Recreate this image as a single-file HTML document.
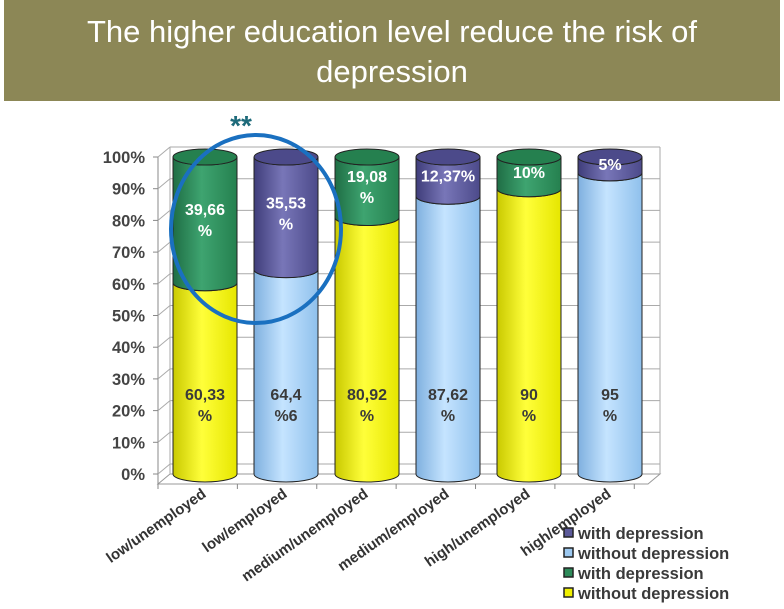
<!DOCTYPE html>
<html><head><meta charset="utf-8"><style>
body{margin:0;background:#fff;width:784px;height:609px;overflow:hidden;font-family:"Liberation Sans",sans-serif}
#banner{position:absolute;left:4px;top:0;width:776px;height:101px;background:#8c8756;color:#fff;font-size:31px;text-align:center;line-height:40px;padding-top:12px;box-sizing:border-box}
svg{position:absolute;left:0;top:0}
</style></head><body>
<div id="banner">The higher education level reduce the risk of<br>depression</div>
<svg id="chart" width="784" height="609"></svg>
<script>
const categories=["low/unemployed","low/employed","medium/unemployed","medium/employed","high/unemployed","high/employed"];
const bottomValues=[60.33,64.46,80.92,87.62,90,95];
const topValues=[39.66,35.53,19.08,12.37,10,5];
const bottomLabels=[["60,33","%"],["64,4","%6"],["80,92","%"],["87,62","%"],["90","%"],["95","%"]];
const topLabels=[["39,66","%"],["35,53","%"],["19,08","%"],["12,37%"],["10%"],["5%"]];
const yTicks=[0,10,20,30,40,50,60,70,80,90,100];
const legendLabels=["with depression","without depression","with depression","without depression"];

const NS="http://www.w3.org/2000/svg";
const svg=document.getElementById('chart');
function el(t,a,p){const e=document.createElementNS(NS,t);for(const k in a)e.setAttribute(k,a[k]);(p||svg).appendChild(e);return e;}
const y0=474,y100=157;
const yS=v=>y0-(y100-y0)*-v/100;
const x0=173,step=81,bw=64;
const xS=i=>x0+i*step;
const ry=8;
const defs=el('defs',{});
const cols={yellow:["#c9c900","#ffff3a","#e6e600"],blue:["#7fb0df","#c5e4ff","#8fc0ec"],green:["#1f6e45","#3ea470","#25804f"],purple:["#3f3d7a","#7876b8","#4c4a8a"]};
for(const k in cols){const g=el('linearGradient',{id:'g'+k,x1:0,x2:1,y1:0,y2:0},defs);
 el('stop',{offset:'0','stop-color':cols[k][0]},g);el('stop',{offset:'0.45','stop-color':cols[k][1]},g);el('stop',{offset:'1','stop-color':cols[k][2]},g);}
const wall=el('polygon',{points:`158,${y0+10} 170,${y0} 660,${y0} 648,${y0+10}`,fill:'none',stroke:'#999'});

el('line',{x1:170,y1:y100-10,x2:170,y2:y0,stroke:'#aaa'});
el('line',{x1:660,y1:y100-10,x2:660,y2:y0,stroke:'#aaa'});
el('line',{x1:158,y1:y100,x2:158,y2:y0+10,stroke:'#888'});
yTicks.forEach(t=>{const y=yS(t);
 const g=el('line',{x1:170,y1:y-10,x2:660,y2:y-10,stroke:'#aaa'});
 
 el('line',{x1:158,y1:y,x2:170,y2:y-10,stroke:'#aaa'});
 el('line',{x1:153,y1:y,x2:158,y2:y,stroke:'#888'});
 const tx=el('text',{x:145,y:y+6,'text-anchor':'end','font-size':16.5,'font-weight':'bold',fill:'#444'});tx.textContent=t+'%';
 
});
for(let i=0;i<=categories.length;i++){const x=158+i*step*0.98;el('line',{x1:x,y1:y0+10,x2:x,y2:y0+15,stroke:'#888'});}
function seg(x,yb,yt,fill,name,cap){
 const cx=x+bw/2,rx=bw/2;
 const p=el('path',{d:`M${x},${yt} L${x},${yb} A${rx},${ry} 0 0 0 ${x+bw},${yb} L${x+bw},${yt} A${rx},${ry} 0 0 1 ${x},${yt} Z`,fill:`url(#g${fill})`,stroke:'#222','stroke-width':1});
 
 if(cap){el('ellipse',{cx,cy:yt,rx,ry,fill:cols[fill][2],stroke:'#222','stroke-width':1});}
}
categories.forEach((c,i)=>{
 const x=xS(i);const bc=i%2?'blue':'yellow',tc=i%2?'purple':'green';
 const yb=yS(bottomValues[i]);const yt=yS(bottomValues[i]+topValues[i]);
 seg(x,y0,yb,bc,'bar-bottom-'+i,false);
 seg(x,yb,yt,tc,'bar-top-'+i,true);
 const cx=x+bw/2;
 bottomLabels[i].forEach((l,j)=>{const t=el('text',{x:cx,y:400+j*21,'text-anchor':'middle','font-size':16,'font-weight':'bold',fill:'#3a3a3a'});t.textContent=l;
  });
 const tl=topLabels[i];const mid=(yb+yt)/2;const sy=mid-(tl.length-1)*10+5;
 tl.forEach((l,j)=>{const t=el('text',{x:cx,y:sy+j*21,'text-anchor':'middle','font-size':16,'font-weight':'bold',fill:'#fff'});t.textContent=l;
  });
 const lx=cx+2,ly=y0+22;
 const xl=el('text',{x:lx,y:ly,'text-anchor':'end','font-size':15,'font-weight':'bold',fill:'#333',transform:`rotate(-35 ${lx} ${ly})`});xl.textContent=c;
 
});
const hl=el('ellipse',{cx:256,cy:229,rx:85,ry:94,fill:'none',stroke:'#1a70c0','stroke-width':4});

const st=el('text',{x:241,y:135,'text-anchor':'middle','font-size':28,'font-weight':'bold',fill:'#1d6a7a'});st.textContent='**';

const lc=["#5c5a9a","#9cc8f0","#2e8b5a","#f0f000"];
legendLabels.forEach((l,i)=>{const y=533+i*20;
 const r=el('rect',{x:564,y:y-5,width:9,height:9,fill:lc[i],stroke:'#222','stroke-width':1.5});
 
 const t=el('text',{x:578,y:y+6,'font-size':16.5,'font-weight':'bold',fill:'#3a3a3a'});t.textContent=l;
 });
</script>
</body></html>
